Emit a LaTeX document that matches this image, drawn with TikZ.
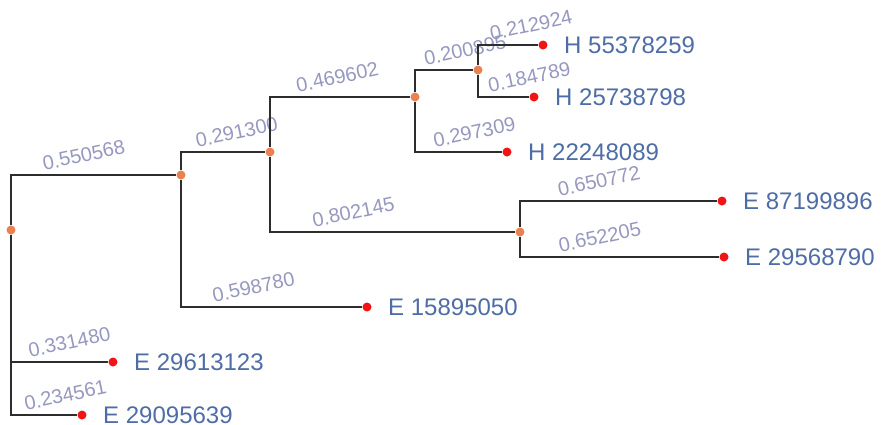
\documentclass[tikz,border=0pt]{standalone}
\usepackage{fontspec}
\setmainfont{Liberation Sans}
\definecolor{branchGray}{RGB}{45,45,45}
\definecolor{lenGray}{RGB}{150,152,192}
\definecolor{leafBlue}{RGB}{78,108,165}
\definecolor{innerOrange}{RGB}{232,130,82}
\definecolor{leafRed}{RGB}{240,20,20}
\begin{document}
\begin{tikzpicture}[x=1pt, y=-1pt,
	inner/.style={circle, fill=innerOrange, inner sep=0pt, minimum size=9pt},
	leaf/.style={circle, fill=leafRed, inner sep=0pt, minimum size=9pt},
	leafText/.style={text=leafBlue, font=\fontsize{24}{28}\selectfont, xshift=13pt},
	branch/.style={draw=branchGray, line width=1.5pt},
	len/.style={text=lenGray, font=\fontsize{20}{22}\selectfont, yshift=20pt, rotate=12}]
	\useasboundingbox (0,0) rectangle (881,424);

	% inner nodes
	\node[inner](root) at (11,230){};
	\node[inner](inOne) at (181,175){};
	\node[inner](inTwo) at (270,152){};
	\node[inner](inThree) at (415,97){};
	\node[inner](inFour) at (478,70){};
	\node[inner](inFive) at (520,232){};

	% leaves
	\node[leaf, label={[leafText]right:H 55378259}](hOne) at (543,45){};
	\node[leaf, label={[leafText]right:H 25738798}](hTwo) at (534,97){};
	\node[leaf, label={[leafText]right:H 22248089}](hThree) at (507,152){};
	\node[leaf, label={[leafText]right:E 87199896}](eOne) at (722,201){};
	\node[leaf, label={[leafText]right:E 29568790}](eTwo) at (724,257){};
	\node[leaf, label={[leafText]right:E 15895050}](eThree) at (367,307){};
	\node[leaf, label={[leafText]right:E 29613123}](eFour) at (113,362){};
	\node[leaf, label={[leafText]right:E 29095639}](eFive) at (82,415){};

	% draw root branches
	\draw[branch] (root) |- node[len, pos=0.72]{0.550568} (inOne);
	\draw[branch] (root) |- node[len, pos=0.80]{0.331480} (eFour);
	\draw[branch] (root) |- node[len, pos=0.91]{0.234561} (eFive);

	% draw inner branches
	\draw[branch] (inOne) |- node[len, pos=0.83]{0.291300} (inTwo);
	\draw[branch] (inOne) |- node[len, pos=0.70]{0.598780} (eThree);
	\draw[branch] (inTwo) |- node[len, pos=0.74]{0.469602} (inThree);
	\draw[branch] (inTwo) |- node[len, pos=0.67]{0.802145} (inFive);
	\draw[branch] (inThree) |- node[len, pos=0.93]{0.200895} (inFour);
	\draw[branch] (inThree) |- node[len, pos=0.84]{0.297309} (hThree);

	% draw leaf branches
	\draw[branch] (inFour) |- node[len, pos=0.94]{0.212924} (hOne);
	\draw[branch] (inFour) |- node[len, pos=1.0]{0.184789} (hTwo);
	\draw[branch] (inFive) |- node[len, pos=0.70]{0.650772} (eOne);
	\draw[branch] (inFive) |- node[len, pos=0.70]{0.652205} (eTwo);

\end{tikzpicture}
\end{document}
